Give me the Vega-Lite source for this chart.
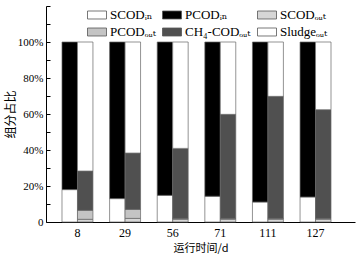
{
  "$schema": "https://vega.github.io/schema/vega-lite/v6.json",
  "autosize": {"type": "none"},
  "padding": {"left": 46, "top": 6, "right": 4, "bottom": 35},
  "width": 309,
  "height": 216,
  "background": "white",
  "config": {"view": {"stroke": null}, "font": "Liberation Serif"},
  "data": {"values": [
    {"day": "8", "bar": "in", "component": "SCODᵢₙ", "value": 0.18},
    {"day": "8", "bar": "in", "component": "PCODᵢₙ", "value": 0.82},
    {"day": "8", "bar": "out", "component": "SCODₒᵤₜ", "value": 0.015},
    {"day": "8", "bar": "out", "component": "PCODₒᵤₜ", "value": 0.05},
    {"day": "8", "bar": "out", "component": "CH₄-CODₒᵤₜ", "value": 0.218},
    {"day": "8", "bar": "out", "component": "Sludgeₒᵤₜ", "value": 0.717},
    {"day": "29", "bar": "in", "component": "SCODᵢₙ", "value": 0.13},
    {"day": "29", "bar": "in", "component": "PCODᵢₙ", "value": 0.87},
    {"day": "29", "bar": "out", "component": "SCODₒᵤₜ", "value": 0.02},
    {"day": "29", "bar": "out", "component": "PCODₒᵤₜ", "value": 0.05},
    {"day": "29", "bar": "out", "component": "CH₄-CODₒᵤₜ", "value": 0.313},
    {"day": "29", "bar": "out", "component": "Sludgeₒᵤₜ", "value": 0.617},
    {"day": "56", "bar": "in", "component": "SCODᵢₙ", "value": 0.148},
    {"day": "56", "bar": "in", "component": "PCODᵢₙ", "value": 0.852},
    {"day": "56", "bar": "out", "component": "SCODₒᵤₜ", "value": 0.015},
    {"day": "56", "bar": "out", "component": "PCODₒᵤₜ", "value": 0.005},
    {"day": "56", "bar": "out", "component": "CH₄-CODₒᵤₜ", "value": 0.389},
    {"day": "56", "bar": "out", "component": "Sludgeₒᵤₜ", "value": 0.591},
    {"day": "71", "bar": "in", "component": "SCODᵢₙ", "value": 0.143},
    {"day": "71", "bar": "in", "component": "PCODᵢₙ", "value": 0.857},
    {"day": "71", "bar": "out", "component": "SCODₒᵤₜ", "value": 0.015},
    {"day": "71", "bar": "out", "component": "PCODₒᵤₜ", "value": 0.005},
    {"day": "71", "bar": "out", "component": "CH₄-CODₒᵤₜ", "value": 0.578},
    {"day": "71", "bar": "out", "component": "Sludgeₒᵤₜ", "value": 0.402},
    {"day": "111", "bar": "in", "component": "SCODᵢₙ", "value": 0.111},
    {"day": "111", "bar": "in", "component": "PCODᵢₙ", "value": 0.889},
    {"day": "111", "bar": "out", "component": "SCODₒᵤₜ", "value": 0.015},
    {"day": "111", "bar": "out", "component": "PCODₒᵤₜ", "value": 0.005},
    {"day": "111", "bar": "out", "component": "CH₄-CODₒᵤₜ", "value": 0.678},
    {"day": "111", "bar": "out", "component": "Sludgeₒᵤₜ", "value": 0.302},
    {"day": "127", "bar": "in", "component": "SCODᵢₙ", "value": 0.139},
    {"day": "127", "bar": "in", "component": "PCODᵢₙ", "value": 0.861},
    {"day": "127", "bar": "out", "component": "SCODₒᵤₜ", "value": 0.015},
    {"day": "127", "bar": "out", "component": "PCODₒᵤₜ", "value": 0.005},
    {"day": "127", "bar": "out", "component": "CH₄-CODₒᵤₜ", "value": 0.604},
    {"day": "127", "bar": "out", "component": "Sludgeₒᵤₜ", "value": 0.376}
  ]},
  "mark": {"type": "bar", "stroke": "#666", "strokeWidth": 0.7},
  "encoding": {
    "x": {
      "field": "day", "type": "ordinal",
      "sort": ["8", "29", "56", "71", "111", "127"],
      "scale": {"paddingInner": 0.35, "paddingOuter": 0.42, "align": 0.4},
      "axis": {
        "title": "运行时间/d", "titleFont": "Noto Sans CJK SC", "titleFontSize": 11, "titleFontWeight": "normal", "titleColor": "black", "titlePadding": 4,
        "labelAngle": 0, "labelFontSize": 12, "labelColor": "black", "labelPadding": 5,
        "ticks": false, "domainColor": "black", "domainWidth": 1
      }
    },
    "xOffset": {"field": "bar", "type": "nominal", "sort": ["in", "out"], "scale": {"paddingInner": 0, "paddingOuter": 0}},
    "y": {
      "field": "value", "type": "quantitative", "stack": "zero",
      "scale": {"domain": [0, 1.2], "nice": false},
      "axis": {
        "title": "组分占比", "titleFont": "Noto Sans CJK SC", "titleFontSize": 12, "titleFontWeight": "normal", "titleColor": "black", "titlePadding": 0,
        "values": [0, 0.1, 0.2, 0.3, 0.4, 0.5, 0.6, 0.7, 0.8, 0.9, 1.0, 1.1, 1.2],
        "labelExpr": "datum.value > 1.001 || (round(datum.value * 10) % 2 == 1) ? '' : (datum.value == 0 ? '0' : format(datum.value, '.0%'))",
        "labelFontSize": 11, "labelColor": "black", "labelPadding": 7,
        "tickSize": -4, "tickColor": "black", "domainColor": "black", "domainWidth": 1, "grid": false
      }
    },
    "color": {
      "field": "component", "type": "nominal",
      "sort": ["SCODᵢₙ", "PCODᵢₙ", "SCODₒᵤₜ", "PCODₒᵤₜ", "CH₄-CODₒᵤₜ", "Sludgeₒᵤₜ"],
      "scale": {
        "domain": ["SCODᵢₙ", "PCODᵢₙ", "SCODₒᵤₜ", "PCODₒᵤₜ", "CH₄-CODₒᵤₜ", "Sludgeₒᵤₜ"],
        "range": ["#ffffff", "#000000", "#d6d6d6", "#c4c4c4", "#505050", "#ffffff"]
      },
      "legend": {
        "title": null, "orient": "none", "legendX": 41, "legendY": -1,
        "direction": "horizontal", "columns": 3, "columnPadding": 4, "rowPadding": -4,
        "symbolType": "M-1,-0.42H1V0.42H-1Z", "symbolSize": 361,
        "symbolStrokeColor": "#555", "symbolStrokeWidth": 0.8, "symbolOpacity": 1,
        "labelFontSize": 13, "labelColor": "black", "labelFont": "Liberation Serif, DejaVu Serif", "labelOffset": 3,
        "labelLimit": 200
      }
    },
    "order": {"field": "stack_position", "type": "quantitative"}
  }
}
